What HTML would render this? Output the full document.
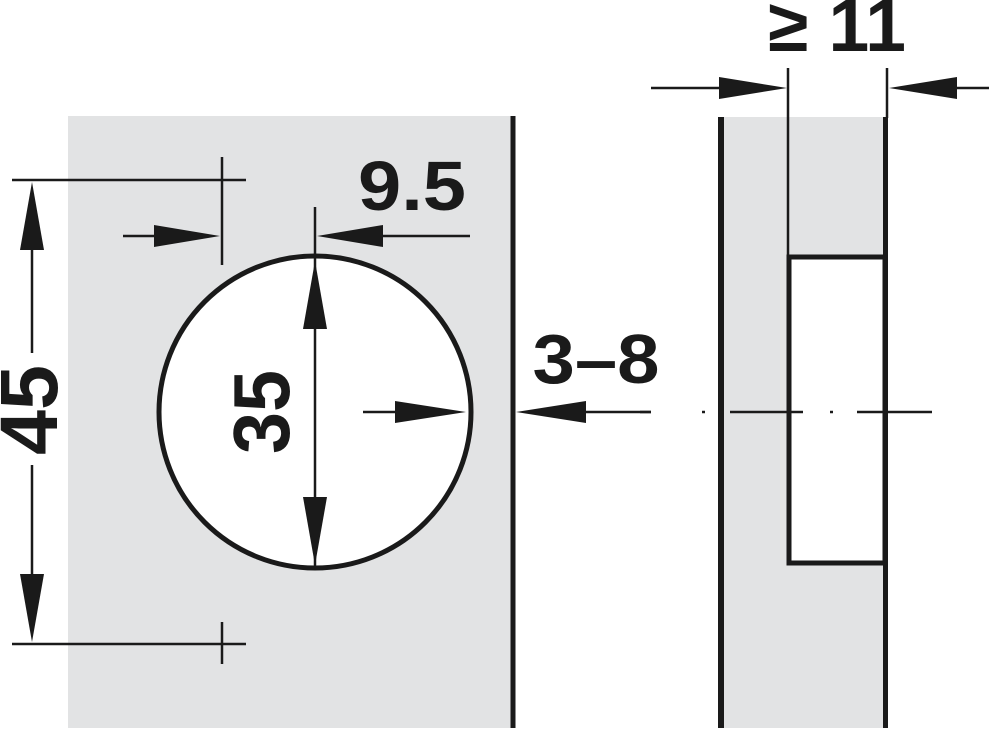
<!DOCTYPE html>
<html><head><style>html,body{margin:0;padding:0;background:#fff;}svg{display:block;}</style></head>
<body>
<svg width="989" height="730" viewBox="0 0 989 730" xmlns="http://www.w3.org/2000/svg" font-family="Liberation Sans, Arial, sans-serif" font-weight="bold" fill="#1a1a1a">
<rect x="68" y="116" width="445" height="612" fill="#e2e3e4"/>
<line x1="513" y1="116" x2="513" y2="728" stroke="#1a1a1a" stroke-width="5"/>
<circle cx="315" cy="412" r="156" fill="#fff" stroke="#1a1a1a" stroke-width="5"/>
<rect x="720" y="117" width="166" height="611" fill="#e2e3e4"/>
<rect x="789" y="257" width="96" height="306" fill="#fff" stroke="#1a1a1a" stroke-width="5"/>
<line x1="721" y1="117" x2="721" y2="728" stroke="#1a1a1a" stroke-width="6"/>
<line x1="885.5" y1="117" x2="885.5" y2="728" stroke="#1a1a1a" stroke-width="5"/>
<line x1="788" y1="68" x2="788" y2="258" stroke="#1a1a1a" stroke-width="2.5"/>
<line x1="887" y1="68" x2="887" y2="118" stroke="#1a1a1a" stroke-width="2.5"/>
<line x1="651" y1="88" x2="720" y2="88" stroke="#1a1a1a" stroke-width="2.5"/>
<polygon points="719,77 787,88 719,99"/>
<line x1="957" y1="88" x2="989" y2="88" stroke="#1a1a1a" stroke-width="2.5"/>
<polygon points="957,77 889,88 957,99"/>
<text x="837" y="51" font-size="74" text-anchor="middle" textLength="138" lengthAdjust="spacingAndGlyphs">≥ 11</text>
<g stroke="#1a1a1a" stroke-width="2.5">
<line x1="640" y1="412" x2="651" y2="412"/>
<line x1="702" y1="412" x2="705" y2="412"/>
<line x1="730" y1="412" x2="803" y2="412"/>
<line x1="830" y1="412" x2="833" y2="412"/>
<line x1="857" y1="412" x2="932" y2="412"/>
</g>
<g stroke="#1a1a1a" stroke-width="2.5">
<line x1="12" y1="180" x2="246" y2="180"/>
<line x1="222" y1="157" x2="222" y2="265"/>
<line x1="12" y1="644" x2="246" y2="644"/>
<line x1="222" y1="622" x2="222" y2="664"/>
<line x1="32" y1="240" x2="32" y2="353"/>
<line x1="32" y1="465" x2="32" y2="580"/>
</g>
<polygon points="32,182 20,250 44,250"/>
<polygon points="32,642 20,574 44,574"/>
<text transform="translate(57,410) rotate(-90)" font-size="82" text-anchor="middle" textLength="90" lengthAdjust="spacingAndGlyphs">45</text>
<g stroke="#1a1a1a" stroke-width="2.5">
<line x1="123" y1="236" x2="160" y2="236"/>
<line x1="315" y1="207" x2="315" y2="260"/>
<line x1="380" y1="236" x2="470" y2="236"/>
<line x1="315" y1="260" x2="315" y2="566"/>
<line x1="363" y1="412" x2="400" y2="412"/>
<line x1="580" y1="412" x2="651" y2="412"/>
</g>
<polygon points="154,225 220,236 154,247"/>
<polygon points="383,225 317,236 383,247"/>
<polygon points="315,261 303,329 327,329"/>
<polygon points="315,565 303,497 327,497"/>
<polygon points="395,401 466,412 395,423"/>
<polygon points="586,401 516,412 586,423"/>
<text x="412" y="210" font-size="70" text-anchor="middle" textLength="108" lengthAdjust="spacingAndGlyphs">9.5</text>
<text x="596" y="383" font-size="70" text-anchor="middle" textLength="127" lengthAdjust="spacingAndGlyphs">3–8</text>
<text transform="translate(289,412) rotate(-90)" font-size="80" text-anchor="middle" textLength="84" lengthAdjust="spacingAndGlyphs">35</text>
</svg>
</body></html>
